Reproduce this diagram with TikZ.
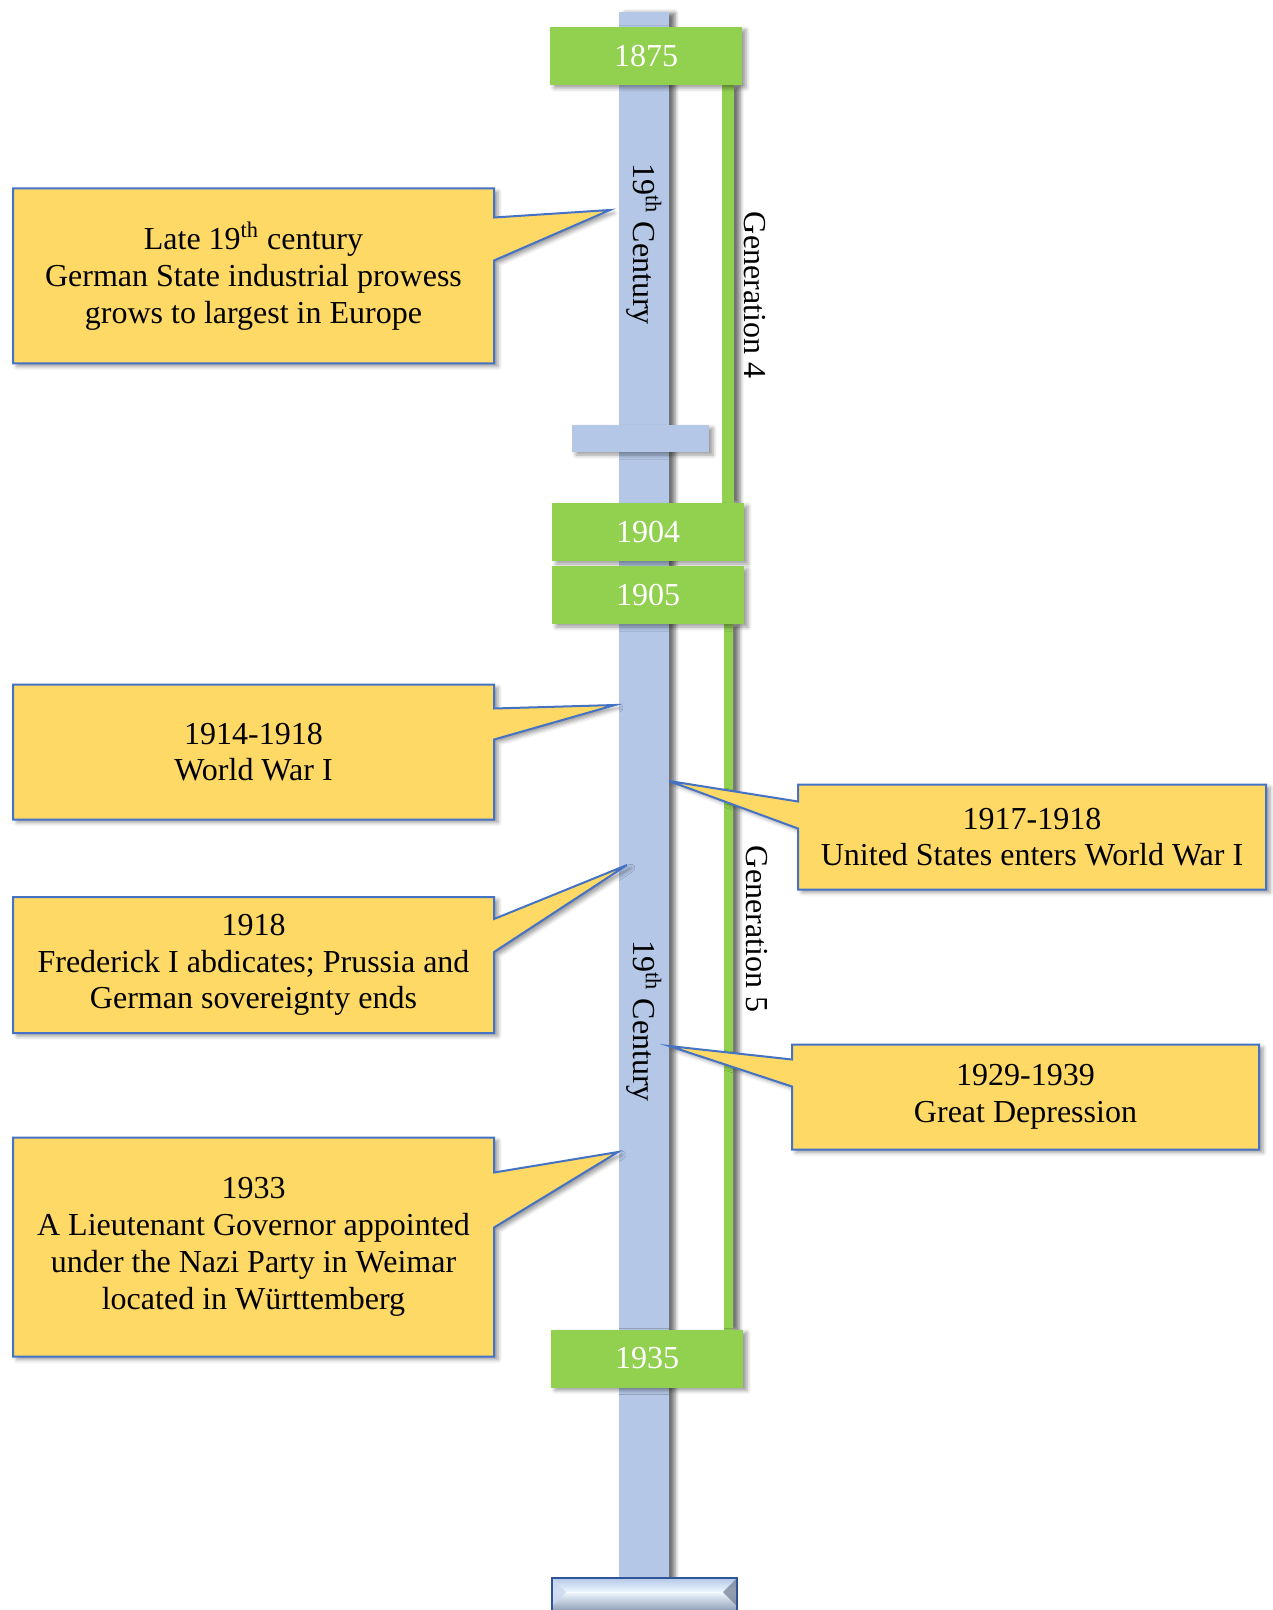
\documentclass[tikz,border=0pt]{standalone}
\usepackage{fontspec}
\setmainfont{Liberation Serif}
\usetikzlibrary{calc,shadows.blur}
\pgfdeclarelayer{back}
\pgfdeclarelayer{middle}
\pgfsetlayers{back,middle,main}
\definecolor{spineblue}{HTML}{B4C7E7}
\definecolor{gengreen}{HTML}{92D050}
\definecolor{notefill}{HTML}{FFD966}
\definecolor{noteline}{HTML}{4472C4}
\definecolor{basedark}{HTML}{2F5597}
\definecolor{baselight}{HTML}{EEF8FF}
\definecolor{basegray}{HTML}{8A99B3}
\newcommand{\callout}[6]{
  \filldraw[callout] (#1.north #6) -- (#1.north #5) -- ([yshift=-#3]#1.north #5)
    -- (#2) -- ([yshift=-#4]#1.north #5) -- (#1.south #5) -- (#1.south #6) -- cycle;
}

\begin{document}
\begin{tikzpicture}[x=0.5pt,y=-0.5pt,
  every node/.style={font=\fontsize{16}{18.4}\selectfont},
  shadowed/.style={blur shadow={shadow xshift=2pt,shadow yshift=-1.5pt,shadow blur radius=2pt,shadow opacity=40}},
  sideshadow/.style={blur shadow={shadow xshift=3pt,shadow yshift=-0.5pt,shadow blur radius=2pt,shadow opacity=55}}]
\tikzstyle{year}=[fill=gengreen,text=white,minimum width=96pt,minimum height=29pt,inner sep=0pt,outer sep=0pt,shadowed]
\tikzstyle{note}=[minimum width=240.5pt,inner sep=0pt,outer sep=0pt,align=center]
\tikzstyle{rnote}=[note,minimum width=234pt,minimum height=52.5pt]
\tikzstyle{callout}=[fill=notefill,draw=noteline,line width=1pt,line join=miter,shadowed]
\tikzstyle{genline}=[fill=gengreen,sideshadow]
\useasboundingbox (0,0) rectangle (1273,1610);

% timeline years
\node[year] (y1875) at (646,56) {1875};
\node[year] (y1904) at (648,532) {1904};
\node[year] (y1905) at (648,595) {1905};
\node[year] (y1935) at (647,1358.5) {1935};

\node[rotate=-90] (cent1) at (644,244) {19\textsuperscript{th} Century};
\node[rotate=-90] (cent2) at (644,1021) {19\textsuperscript{th} Century};
\node[rotate=-90] (gen4) at (755,295) {Generation 4};
\node[rotate=-90] (gen5) at (757,929) {Generation 5};

\node[note,minimum height=87.5pt] (c1) at (253.5,276)
  {Late 19\textsuperscript{th} century\\German State industrial prowess\\grows to largest in Europe};
\node[note,minimum height=67.5pt] (c2) at (253.5,752) {1914-1918\\World War I};
\node[note,minimum height=68pt] (c3) at (253.5,965)
  {1918\\Frederick I abdicates; Prussia and\\German sovereignty ends};
\node[note,minimum height=109.5pt] (c4) at (253.5,1247)
  {1933\\A Lieutenant Governor appointed\\under the Nazi Party in Weimar\\located in Württemberg};
\node[rnote] (r1) at (1032,837) {1917-1918\\United States enters World War I};
\node[rnote,minimum width=233.5pt] (r2) at (1025.5,1097) {1929-1939\\Great Depression};

\coordinate (t1) at (610,210);
\coordinate (t2) at (615,705);
\coordinate (t3) at (627,865);
\coordinate (t4) at (618,1152);
\coordinate (t5) at (669,781);
\coordinate (t6) at (669,1046);

\begin{pgfonlayer}{middle}
\fill[spineblue,sideshadow] (619,12) rectangle (669,1600);
\fill[spineblue,shadowed] (572,425) rectangle (709,452);
\fill[genline] ([xshift=-10pt]y1875.south east) rectangle ([xshift=-5pt]y1904.north east);
\fill[genline] ([xshift=-10pt]y1905.south east) rectangle ([xshift=-5pt]y1935.north east);
\callout{c1}{t1}{14.5pt}{36pt}{east}{west}
\callout{c2}{t2}{12pt}{27.5pt}{east}{west}
\callout{c3}{t3}{11pt}{27.5pt}{east}{west}
\callout{c4}{t4}{17.5pt}{45pt}{east}{west}
\callout{r1}{t5}{8.5pt}{22pt}{west}{east}
\callout{r2}{t6}{7.5pt}{21pt}{west}{east}
\end{pgfonlayer}

% beveled foot of the timeline
\shade[top color=spineblue,bottom color=baselight] (552,1578) rectangle (737,1592);
\shade[top color=baselight,bottom color=basegray] (552,1592) rectangle (737,1612);
\fill[spineblue!70!white,opacity=.8] (552,1578) -- (566,1592) -- (552,1606) -- cycle;
\fill[basegray!80!black,opacity=.7] (737,1578) -- (723,1592) -- (737,1606) -- cycle;
\draw[white,opacity=.6,line width=.5pt] (566,1592) -- (723,1592);
\draw[basedark,line width=1.2pt] (552,1612) -- (552,1578) -- (737,1578) -- (737,1612);
\end{tikzpicture}
\end{document}
